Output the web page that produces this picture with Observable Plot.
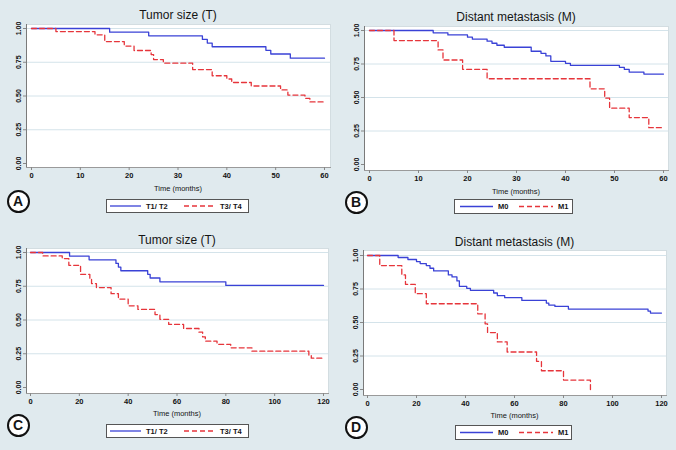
<!DOCTYPE html>
<html>
<head>
<meta charset="utf-8">
<script src="https://cdn.jsdelivr.net/npm/d3@7"></script>
<script src="https://cdn.jsdelivr.net/npm/@observablehq/plot@0.6"></script>
<style>
  html, body { margin: 0; padding: 0; background: #e0eaee; }
  #root { position: relative; width: 676px; height: 450px; background: #e0eaee; overflow: hidden;
          font-family: "Liberation Sans", Arial, sans-serif; color: #151515; }
  .abs { position: absolute; }
  .title { text-align: center; font-size: 12px; line-height: 14px; white-space: nowrap; }
  .xlab { text-align: center; font-size: 7.5px; line-height: 9px; white-space: nowrap; }
  .circ { box-sizing: border-box; border: 2px solid #111; border-radius: 50%; background: #fff;
          font-weight: bold; font-size: 14px; text-align: center; }
  .legend { box-sizing: border-box; border: 1px solid #555; background: #fff; }
  .legtxt { font-size: 7.5px; line-height: 9px; white-space: nowrap; }
</style>
</head>
<body>
<div id="root"></div>
<script>
// ---------- Data ----------
// Panel A: Tumor size (T), 0-60 months
const A_T12_time = [0, 16, 24, 35, 36, 37, 48, 49, 53, 60];
const A_T12_surv = [1, 0.973, 0.946, 0.919, 0.892, 0.865, 0.838, 0.811, 0.78, 0.78];
const A_T34_time = [0, 5, 13, 15, 19, 21, 24.5, 25, 27, 33, 37, 40, 41, 45, 51, 52.5, 56, 57, 60];
const A_T34_surv = [1, 0.977, 0.953, 0.903, 0.87, 0.837, 0.807, 0.77, 0.743, 0.696, 0.65, 0.626, 0.6, 0.574, 0.545, 0.507, 0.483, 0.456, 0.456];

// Panel B: Distant metastasis (M), 0-60 months
const B_M0_time = [0, 13, 16, 20, 21, 24, 25, 26, 27.5, 33, 35, 36, 37, 40, 41, 51, 52, 53, 56, 60];
const B_M0_surv = [1, 0.983, 0.967, 0.95, 0.935, 0.92, 0.905, 0.89, 0.875, 0.845, 0.83, 0.81, 0.77, 0.755, 0.74, 0.725, 0.71, 0.69, 0.675, 0.675];
const B_M1_time = [0, 5, 14, 15, 19, 24, 45, 48, 49, 53, 57, 60];
const B_M1_surv = [1, 0.925, 0.855, 0.78, 0.71, 0.64, 0.565, 0.495, 0.42, 0.35, 0.275, 0.275];

// Panel C: Tumor size (T), 0-120 months
const C_T12_time = [0, 16, 24, 35, 36, 37, 48, 49, 53, 80, 120];
const C_T12_surv = [1, 0.973, 0.946, 0.919, 0.892, 0.865, 0.838, 0.811, 0.783, 0.756, 0.756];
const C_T34_time = [0, 5, 13, 15.7, 20.5, 24.3, 25, 27, 33, 36, 40, 44, 51, 53, 56.6, 62.7, 69, 70.5, 71.6, 76.4, 82, 90.7, 114, 115, 120];
const C_T34_surv = [1, 0.975, 0.955, 0.905, 0.838, 0.805, 0.77, 0.74, 0.695, 0.655, 0.605, 0.578, 0.54, 0.505, 0.467, 0.437, 0.41, 0.375, 0.343, 0.32, 0.294, 0.269, 0.24, 0.217, 0.217];

// Panel D: Distant metastasis (M), 0-120 months
const D_M0_time = [0, 12.5, 16.5, 20, 21.5, 24, 25.5, 27, 33, 34.5, 36.5, 37.5, 40.5, 42, 51.5, 53, 56, 63, 73, 74, 76.5, 82, 114.5, 115.5, 120];
const D_M0_surv = [1, 0.985, 0.97, 0.955, 0.94, 0.925, 0.905, 0.885, 0.855, 0.84, 0.81, 0.77, 0.755, 0.74, 0.72, 0.70, 0.685, 0.665, 0.645, 0.63, 0.62, 0.60, 0.585, 0.57, 0.57];
const D_M1_time = [0, 5, 14, 15.5, 19.5, 24, 45, 48, 49, 53, 57, 69, 71, 80, 91];
const D_M1_surv = [1, 0.925, 0.855, 0.785, 0.715, 0.64, 0.565, 0.49, 0.425, 0.355, 0.28, 0.21, 0.14, 0.07, 0];

const yTicks = [0, 0.25, 0.5, 0.75, 1];
const xTicks60 = [0, 10, 20, 30, 40, 50, 60];
const xTicks120 = [0, 20, 40, 60, 80, 100, 120];
const labelsT = ["T1/ T2", "T3/ T4"];
const labelsM = ["M0", "M1"];
const titleT = "Tumor size (T)";
const titleM = "Distant metastasis (M)";
const xLabel = "Time (months)";

const BLUE = "#3a42d6";
const RED = "#e6353b";
const DASH = "5,3";

function rows(times, surv) { return times.map((t, i) => ({t, s: surv[i]})); }

const panels = [
  {letter: "A", title: titleT, labels: labelsT, xMax: 60, xTicks: xTicks60,
   s1: rows(A_T12_time, A_T12_surv), s2: rows(A_T34_time, A_T34_surv),
   f: {l: 26, r: 330, t: 24, b: 167}, inset: [5, 6, 4, 4],
   titleY: 15, xlabY: 188, leg: {x1: 106, x2: 249, y1: 199, y2: 213, items: [110, 146, 184, 220]}, circ: [18, 201]},
  {letter: "B", title: titleM, labels: labelsM, xMax: 60, xTicks: xTicks60,
   s1: rows(B_M0_time, B_M0_surv), s2: rows(B_M1_time, B_M1_surv),
   f: {l: 364, r: 668, t: 26, b: 170}, inset: [5, 5, 4, 6],
   titleY: 17, xlabY: 191, leg: {x1: 454, x2: 573, y1: 199, y2: 214, items: [460, 498, 519, 558]}, circ: [356, 202]},
  {letter: "C", title: titleT, labels: labelsT, xMax: 120, xTicks: xTicks120,
   s1: rows(C_T12_time, C_T12_surv), s2: rows(C_T34_time, C_T34_surv),
   f: {l: 26, r: 328, t: 248, b: 393}, inset: [4, 5, 4, 6],
   titleY: 240, xlabY: 413, leg: {x1: 106, x2: 249, y1: 424, y2: 438, items: [110, 146, 184, 220]}, circ: [18, 425]},
  {letter: "D", title: titleM, labels: labelsM, xMax: 120, xTicks: xTicks120,
   s1: rows(D_M0_time, D_M0_surv), s2: rows(D_M1_time, D_M1_surv),
   f: {l: 363, r: 666, t: 250, b: 395}, inset: [4, 5, 5, 6],
   titleY: 242, xlabY: 415, leg: {x1: 455, x2: 572, y1: 425, y2: 440, items: [460, 498, 519, 558]}, circ: [356, 427]}
];

const root = document.getElementById("root");

function addDiv(cls, text, css) {
  const d = document.createElement("div");
  d.className = "abs " + cls;
  if (text != null) d.textContent = text;
  Object.assign(d.style, css);
  root.appendChild(d);
  return d;
}

for (const p of panels) {
  const ML = 26, MR = 6, MT = 4, MB = 18;
  const W = (p.f.r - p.f.l) + ML + MR;
  const H = (p.f.b - p.f.t) + MT + MB;
  const chart = Plot.plot({
    width: W, height: H,
    marginLeft: ML, marginRight: MR, marginTop: MT, marginBottom: MB,
    style: {background: "transparent", fontFamily: "'Liberation Sans', Arial, sans-serif", color: "#111", overflow: "visible"},
    x: {domain: [0, p.xMax], insetLeft: p.inset[0], insetRight: p.inset[1]},
    y: {domain: [0, 1], insetTop: p.inset[2], insetBottom: p.inset[3]},
    marks: [
      Plot.frame({fill: "white", stroke: "#d3dde1"}),
      Plot.gridY(yTicks.filter(d => d > 0), {stroke: "#d4e3ea", strokeOpacity: 1, strokeWidth: 1}),
      Plot.frame({anchor: "left", stroke: "#7a7a7a"}),
      Plot.frame({anchor: "bottom", stroke: "#9a9a9a"}),
      Plot.axisX({ticks: p.xTicks, tickSize: 3, tickPadding: 2, fontSize: 7.5, fontWeight: "bold", label: null, stroke: "#888"}),
      Plot.axisY({ticks: yTicks, tickFormat: d3.format(".2f"), tickSize: 3, tickPadding: 3, tickRotate: -90, fontSize: 7, fontWeight: "bold", label: null, stroke: "#888"}),
      Plot.line(p.s1, {x: "t", y: "s", stroke: BLUE, strokeWidth: 1.3, curve: "step-after"}),
      Plot.line(p.s2, {x: "t", y: "s", stroke: RED, strokeWidth: 1.3, strokeDasharray: DASH, curve: "step-after"})
    ]
  });
  chart.style.position = "absolute";
  chart.style.left = (p.f.l - ML) + "px";
  chart.style.top = (p.f.t - MT) + "px";
  root.appendChild(chart);

  const cx = (p.f.l + p.f.r) / 2;
  addDiv("title", p.title, {left: (cx - 120) + "px", width: "240px", top: (p.titleY - 7) + "px"});
  addDiv("xlab", xLabel, {left: (cx - 60) + "px", width: "120px", top: (p.xlabY - 4.5) + "px"});

  // legend
  const L = p.leg;
  addDiv("legend", null, {left: L.x1 + "px", top: L.y1 + "px", width: (L.x2 - L.x1) + "px", height: (L.y2 - L.y1) + "px"});
  const midY = (L.y1 + L.y2) / 2;
  const ns = "http://www.w3.org/2000/svg";
  const svg = document.createElementNS(ns, "svg");
  svg.setAttribute("width", 676); svg.setAttribute("height", 450);
  svg.style.position = "absolute"; svg.style.left = "0px"; svg.style.top = "0px"; svg.style.pointerEvents = "none";
  const mk = (x1, x2, col, dash) => {
    const ln = document.createElementNS(ns, "line");
    ln.setAttribute("x1", x1); ln.setAttribute("x2", x2);
    ln.setAttribute("y1", midY); ln.setAttribute("y2", midY);
    ln.setAttribute("stroke", col); ln.setAttribute("stroke-width", 1.3);
    if (dash) ln.setAttribute("stroke-dasharray", dash);
    svg.appendChild(ln);
  };
  mk(L.items[0], L.items[1] - 5, BLUE, null);
  mk(L.items[2], L.items[3] - 5, RED, DASH);
  root.appendChild(svg);
  addDiv("legtxt", p.labels[0], {left: L.items[1] + "px", top: (midY - 4.5) + "px", fontWeight: "bold"});
  addDiv("legtxt", p.labels[1], {left: L.items[3] + "px", top: (midY - 4.5) + "px", fontWeight: "bold"});

  // circled letter
  const d = 23;
  addDiv("circ", p.letter, {left: (p.circ[0] - d / 2) + "px", top: (p.circ[1] - d / 2) + "px",
    width: d + "px", height: d + "px", lineHeight: (d - 4) + "px"});
}
</script>
</body>
</html>
